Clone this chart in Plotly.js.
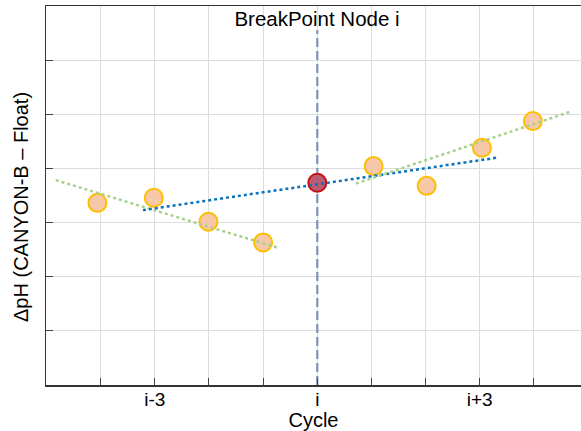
<!DOCTYPE html>
<html>
<head>
<meta charset="utf-8">
<script src="https://cdn.plot.ly/plotly-3.0.1.min.js"></script>
<style>html,body{margin:0;padding:0;background:#fff;}#chart{width:581px;height:431px;}</style>
</head>
<body>
<div id="chart"></div>
<script>
// Cycle offsets relative to the breakpoint node i, and measured ΔpH values
var cycles = [-4.06, -3.02, -2.01, -1.0, 0, 1.04, 2.02, 3.04, 3.98];
var dpH = [3.365, 3.458, 3.015, 2.634, 3.735, 4.043, 3.679, 4.381, 4.874];
var breakIndex = 4;

// Fit lines (endpoints as drawn)
var fitPreX = [-4.83, -0.73];
var fitPreY = [3.784, 2.535];
var fitAllX = [-3.22, 3.33];
var fitAllY = [3.23, 4.20];
var fitPostX = [0.715, 4.68];
var fitPostY = [3.72, 5.05];

// Breakpoint marker line
var breakLineX = [0, 0];
var breakLineY = [0, 6.55];

// Axis ticks
var xTickVals = [-4, -3, -2, -1, 0, 1, 2, 3, 4];
var xTickText = ['', 'i-3', '', '', 'i', '', '', 'i+3', ''];
var yTickVals = [1, 2, 3, 4, 5, 6];

var otherX = cycles.filter(function(_, k){ return k !== breakIndex; });
var otherY = dpH.filter(function(_, k){ return k !== breakIndex; });

var FONT = 'Liberation Sans, Arial, Helvetica, sans-serif';

var traces = [
  {x: breakLineX, y: breakLineY, mode: 'lines', line: {color: '#7f93b3', width: 2.2, dash: '9px,4px'}, hoverinfo: 'skip'},
  {x: otherX, y: otherY, mode: 'markers', marker: {size: 18, color: '#f6c8a8', line: {color: '#ffbf00', width: 2}}},
  {x: [cycles[breakIndex]], y: [dpH[breakIndex]], mode: 'markers', marker: {size: 18, color: '#bb5c72', line: {color: '#c41010', width: 2}}},
  {x: fitPreX, y: fitPreY, mode: 'lines', line: {color: '#a8d08a', width: 2.5, dash: 'dot'}},
  {x: fitAllX, y: fitAllY, mode: 'lines', line: {color: '#0b72bd', width: 2.5, dash: 'dot'}},
  {x: fitPostX, y: fitPostY, mode: 'lines', line: {color: '#a8d08a', width: 2.5, dash: 'dot'}}
];

var layout = {
  width: 581, height: 431,
  margin: {l: 46, r: 0, t: 6, b: 46, pad: 0},
  paper_bgcolor: '#ffffff', plot_bgcolor: '#ffffff',
  showlegend: false,
  font: {family: FONT, size: 19, color: '#000000'},
  title: {text: 'BreakPoint Node i', font: {family: FONT, size: 20.5, color: '#000'}, x: 317/581, xanchor: 'center', xref: 'container', y: 1 - 19/431, yanchor: 'middle', yref: 'container'},
  xaxis: {
    range: [-5.01, 4.87], tickmode: 'array', tickvals: xTickVals, ticktext: xTickText,
    ticks: 'inside', ticklen: 7, tickcolor: '#444', tickwidth: 1,
    ticklabelstandoff: -3,
    showline: true, linecolor: '#333', linewidth: 1.5, mirror: true,
    showgrid: true, gridcolor: '#dcdcdc', gridwidth: 1, zeroline: false,
    tickfont: {family: FONT, size: 19, color: '#000'},
    title: {text: 'Cycle', font: {family: FONT, size: 20, color: '#000'}, standoff: 5}
  },
  yaxis: {
    range: [0, 7], tickmode: 'array', tickvals: yTickVals, showticklabels: false,
    ticks: 'inside', ticklen: 7, tickcolor: '#444', tickwidth: 1,
    showline: true, linecolor: '#333', linewidth: 1.5, mirror: false,
    showgrid: true, gridcolor: '#dcdcdc', gridwidth: 1, zeroline: false
  },
  annotations: [{
    text: 'ΔpH (CANYON-B – Float)', textangle: -90, showarrow: false,
    xref: 'paper', yref: 'paper', x: (21 - 46)/535, y: (385 - 207)/379,
    xanchor: 'center', yanchor: 'middle', font: {family: FONT, size: 20, color: '#000'}
  }]
};

Plotly.newPlot('chart', traces, layout, {displayModeBar: false, staticPlot: true});
</script>
</body>
</html>
